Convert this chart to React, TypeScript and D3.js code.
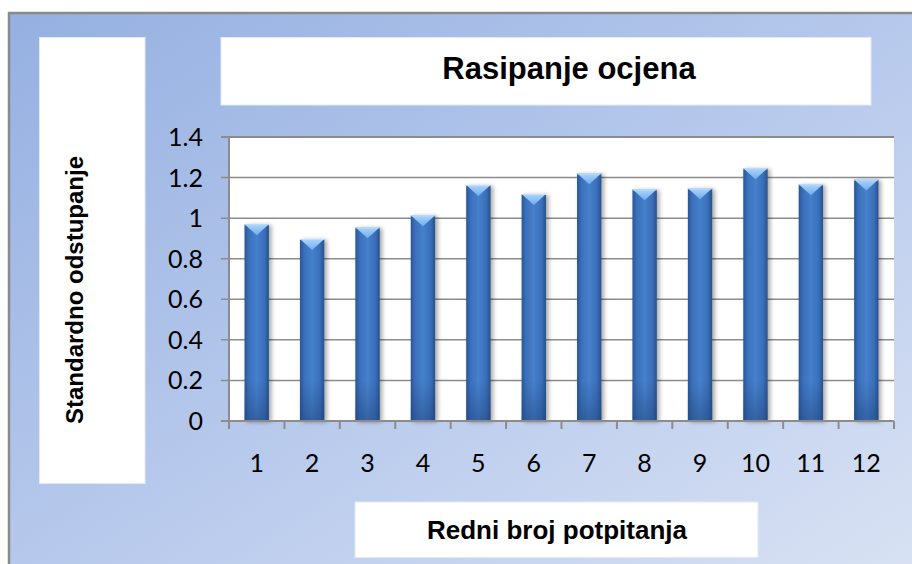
import React from "react";
import * as d3 from "d3";

const categories = ["1", "2", "3", "4", "5", "6", "7", "8", "9", "10", "11", "12"];
const values = [0.97, 0.897, 0.955, 1.014, 1.163, 1.119, 1.221, 1.142, 1.147, 1.246, 1.167, 1.191];
const yTicks = [0, 0.2, 0.4, 0.6, 0.8, 1, 1.2, 1.4];
const titleText = "Rasipanje ocjena";
const xTitle = "Redni broj potpitanja";
const yTitle = "Standardno odstupanje";

const W = 912;
const H = 564;
const plot = { left: 229, right: 894, top: 137, bottom: 421 };

export default function App() {
  const x = d3
    .scaleBand<string>()
    .domain(categories)
    .range([plot.left, plot.right])
    .paddingInner(0.56)
    .paddingOuter(0.28);
  const xCat = d3.scaleBand<string>().domain(categories).range([plot.left, plot.right]).padding(0);
  const y = d3.scaleLinear().domain([0, 1.4]).range([plot.bottom, plot.top]);
  const bw = x.bandwidth();
  const fmt = (v: number) => d3.format("~g")(+v.toFixed(1));
  const boundaries = categories.map((c) => xCat(c) as number).concat([plot.right]);
  const capH = 11;

  return (
    <svg
      width={W}
      height={H}
      viewBox={`0 0 ${W} ${H}`}
      style={{ position: "absolute", left: 0, top: 0, display: "block" }}
    >
      <defs>
        <linearGradient id="bg" x1="0" y1="0" x2="1" y2="1">
          <stop offset="0%" stopColor="#95b0e1" />
          <stop offset="50%" stopColor="#b7c9ec" />
          <stop offset="100%" stopColor="#dae3f4" />
        </linearGradient>
        <linearGradient id="barBody" x1="0" y1="0" x2="1" y2="0">
          <stop offset="0%" stopColor="#2a5594" />
          <stop offset="18%" stopColor="#3a70bb" />
          <stop offset="50%" stopColor="#4680cc" />
          <stop offset="82%" stopColor="#396fb9" />
          <stop offset="100%" stopColor="#28508c" />
        </linearGradient>
        <linearGradient id="barBottom" x1="0" y1="0" x2="0" y2="1">
          <stop offset="0%" stopColor="#1f3f73" stopOpacity="0" />
          <stop offset="100%" stopColor="#1f3f73" stopOpacity="0.45" />
        </linearGradient>
        <linearGradient id="cap" x1="0" y1="0" x2="0" y2="1">
          <stop offset="0%" stopColor="#acd5fc" />
          <stop offset="100%" stopColor="#72acec" />
        </linearGradient>
        <filter id="shadow" x="-50%" y="-10%" width="200%" height="130%">
          <feDropShadow dx="2.5" dy="1" stdDeviation="2" floodColor="#000" floodOpacity="0.35" />
        </filter>
      </defs>

      <rect x={0} y={0} width={W} height={H} fill="#ffffff" />
      <rect x={9} y={13} width={W + 10} height={H + 10} fill="url(#bg)" stroke="#8a8a8a" strokeWidth={2.5} />

      {/* title box */}
      <rect x={221} y={37.5} width={650} height={67.5} fill="#ffffff" stroke="#e2e9f6" strokeWidth={1} />
      <text
        x={569}
        y={79}
        textAnchor="middle"
        fontFamily="'Liberation Sans', Arial, sans-serif"
        fontWeight="bold"
        fontSize={31}
        fill="#000"
      >
        {titleText}
      </text>

      {/* y title box */}
      <rect x={39.5} y={37.5} width={105.5} height={446} fill="#ffffff" stroke="#e2e9f6" strokeWidth={1} />
      <text
        transform={`translate(83,290) rotate(-90)`}
        textAnchor="middle"
        fontFamily="'Liberation Sans', Arial, sans-serif"
        fontWeight="bold"
        fontSize={24}
        fill="#000"
      >
        {yTitle}
      </text>

      {/* x title box */}
      <rect x={355} y={502} width={403} height={55.5} fill="#ffffff" stroke="#e2e9f6" strokeWidth={1} />
      <text
        x={557}
        y={539}
        textAnchor="middle"
        fontFamily="'Liberation Sans', Arial, sans-serif"
        fontWeight="bold"
        fontSize={26}
        fill="#000"
      >
        {xTitle}
      </text>

      {/* plot area */}
      <rect
        x={plot.left}
        y={plot.top}
        width={plot.right - plot.left}
        height={plot.bottom - plot.top}
        fill="#ffffff"
      />

      {/* gridlines + y ticks */}
      {yTicks.map((t) => (
        <g key={t}>
          <line
            x1={plot.left - 8}
            x2={plot.right}
            y1={y(t)}
            y2={y(t)}
            stroke="#8c8c8c"
            strokeWidth={t === 1.4 ? 2 : 1.5}
          />
          <text
            x={203}
            y={y(t)}
            dy="0.36em"
            textAnchor="end"
            fontFamily="Lato, 'Open Sans', sans-serif"
            fontSize={25}
            fill="#000"
          >
            {fmt(t)}
          </text>
        </g>
      ))}

      {/* bars */}
      {values.map((v, i) => {
        const bx = x(categories[i]) as number;
        const top = y(v);
        const h = plot.bottom - top;
        return (
          <g key={i}>
            <rect x={bx} y={top} width={bw} height={h} fill="url(#barBody)" filter="url(#shadow)" />
            <rect x={bx} y={plot.bottom - Math.min(40, h)} width={bw} height={Math.min(40, h)} fill="url(#barBottom)" />
            <polygon
              points={`${bx},${top} ${bx + bw},${top} ${bx + bw / 2},${top + capH}`}
              fill="url(#cap)"
            />
            <line x1={bx} x2={bx + bw} y1={top + 0.5} y2={top + 0.5} stroke="#c3e2fd" strokeWidth={1} />
          </g>
        );
      })}

      {/* axes */}
      <line x1={plot.left} x2={plot.left} y1={plot.top} y2={plot.bottom} stroke="#8c8c8c" strokeWidth={2} />
      <line x1={plot.left - 8} x2={plot.right} y1={plot.bottom} y2={plot.bottom} stroke="#8c8c8c" strokeWidth={2} />
      {boundaries.map((b, i) => (
        <line key={i} x1={b} x2={b} y1={plot.bottom} y2={plot.bottom + 8} stroke="#8c8c8c" strokeWidth={2} />
      ))}
      {categories.map((c) => (
        <text
          key={c}
          x={(xCat(c) as number) + xCat.bandwidth() / 2}
          y={472}
          textAnchor="middle"
          fontFamily="Lato, 'Open Sans', sans-serif"
          fontSize={25}
          fill="#000"
        >
          {c}
        </text>
      ))}
    </svg>
  );
}
